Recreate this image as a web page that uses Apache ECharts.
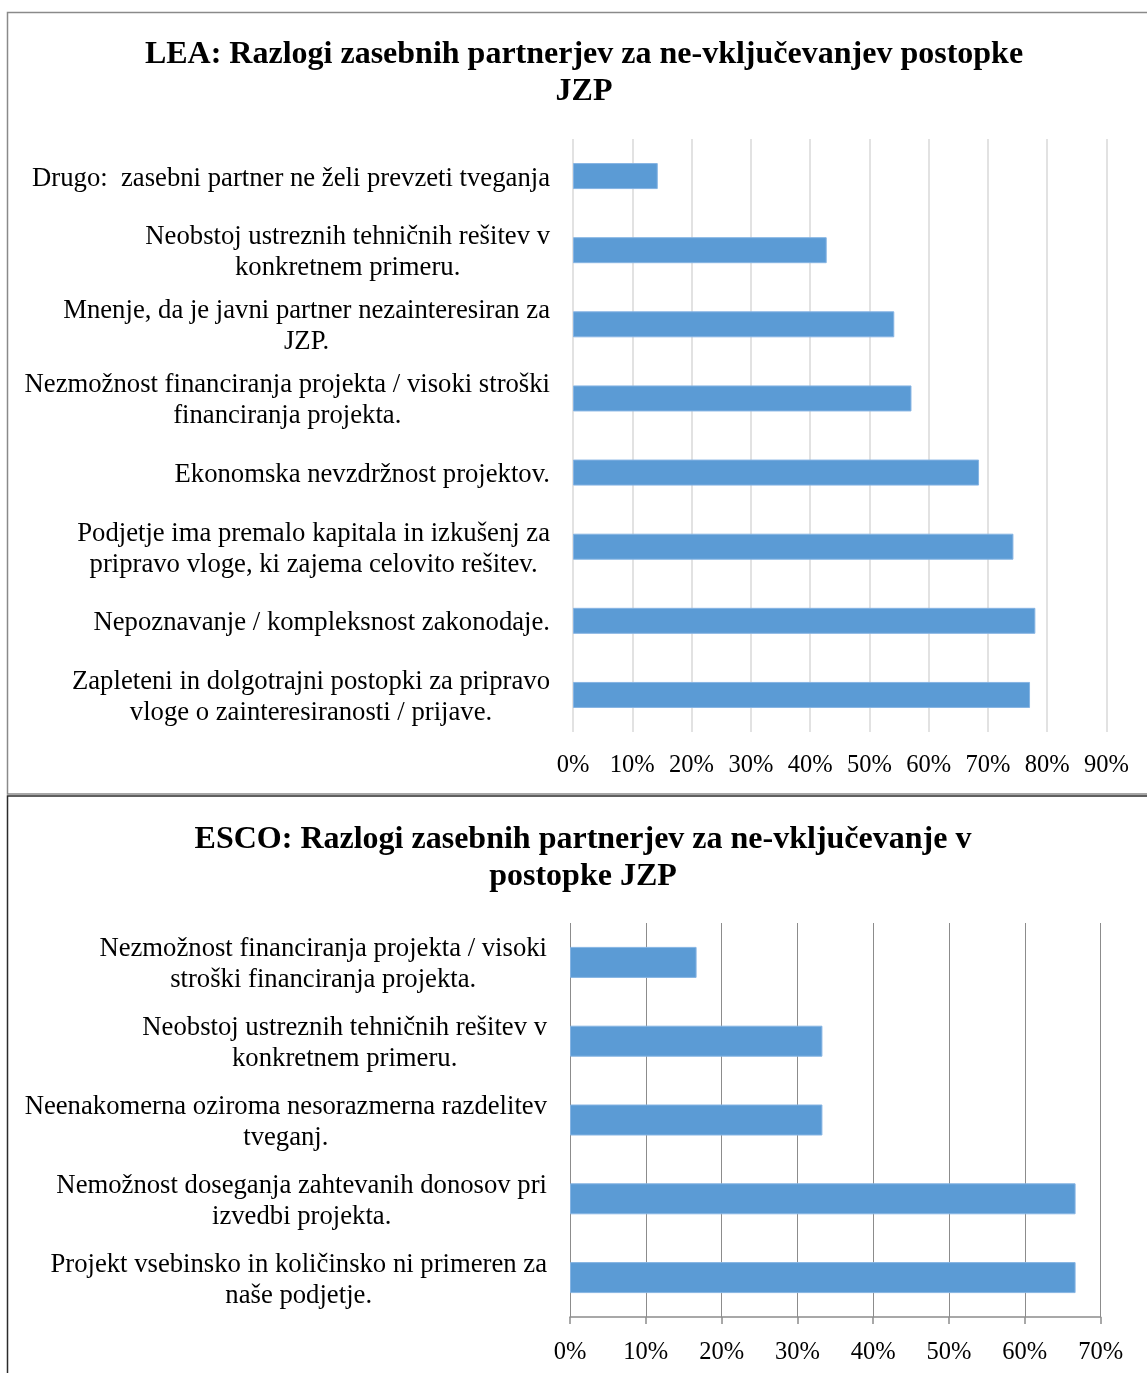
<!DOCTYPE html>
<html>
<head>
<meta charset="utf-8">
<title>Razlogi zasebnih partnerjev za ne-vključevanje v postopke JZP</title>
<script src="https://cdn.jsdelivr.net/npm/echarts@6/dist/echarts.min.js"></script>
<style>
  html, body { margin: 0; padding: 0; background: #fff; }
  #chart { width: 1147px; height: 1373px; }
</style>
</head>
<body>
<div id="chart"></div>
<script>
// LEA panel: reasons listed top to bottom, shares in percent
const leaCategories = [
  'Drugo:  zasebni partner ne želi prevzeti tveganja',
  'Neobstoj ustreznih tehničnih rešitev v\nkonkretnem primeru.',
  'Mnenje, da je javni partner nezainteresiran za\nJZP.',
  'Nezmožnost financiranja projekta / visoki stroški\nfinanciranja projekta.',
  'Ekonomska nevzdržnost projektov.',
  'Podjetje ima premalo kapitala in izkušenj za\npripravo vloge, ki zajema celovito rešitev.',
  'Nepoznavanje / kompleksnost zakonodaje.',
  'Zapleteni in dolgotrajni postopki za pripravo\nvloge o zainteresiranosti / prijave.'
];
const leaValues = [14.3, 42.8, 54.2, 57.1, 68.5, 74.3, 78.0, 77.1];
const leaTicks = [0, 10, 20, 30, 40, 50, 60, 70, 80, 90];

// ESCO panel
const escoCategories = [
  'Nezmožnost financiranja projekta / visoki\nstroški financiranja projekta.',
  'Neobstoj ustreznih tehničnih rešitev v\nkonkretnem primeru.',
  'Neenakomerna oziroma nesorazmerna razdelitev\ntveganj.',
  'Nemožnost doseganja zahtevanih donosov pri\nizvedbi projekta.',
  'Projekt vsebinsko in količinsko ni primeren za\nnaše podjetje.'
];
const escoValues = [16.7, 33.3, 33.3, 66.7, 66.7];
const escoTicks = [0, 10, 20, 30, 40, 50, 60, 70];

const leaTitle = 'LEA: Razlogi zasebnih partnerjev za ne-vključevanjev postopke\nJZP';
const escoTitle = 'ESCO: Razlogi zasebnih partnerjev za ne-vključevanje v\npostopke JZP';

const SERIF = '"Liberation Serif", "Times New Roman", serif';
const BAR = '#5B9BD5';

// each wrapped line is centred inside the right-aligned label block
function centredLines(v) {
  return v.split('\n').map(function (l) { return '{c|' + l + '}'; }).join('\n');
}
const categoryLabel = {
  interval: 0,
  margin: 23,
  padding: [5, 0, 0, 0],
  formatter: centredLines,
  rich: {
    c: { align: 'center', fontSize: 26.7, lineHeight: 31, fontFamily: SERIF, color: '#000' }
  }
};

const chart = echarts.init(document.getElementById('chart'), null, { renderer: 'canvas' });

chart.setOption({
  animation: false,
  backgroundColor: '#fff',
  title: [
    {
      text: leaTitle, left: 584, top: 36, textAlign: 'center', padding: 0,
      textStyle: { fontFamily: SERIF, fontWeight: 'bold', fontSize: 32, lineHeight: 37, color: '#000' }
    },
    {
      text: escoTitle, left: 583, top: 821, textAlign: 'center', padding: 0,
      textStyle: { fontFamily: SERIF, fontWeight: 'bold', fontSize: 32, lineHeight: 37, color: '#000' }
    }
  ],
  graphic: [
    // frame of the upper panel
    { type: 'rect', silent: true, z: -1,
      shape: { x: 7.5, y: 12.5, width: 1160, height: 781.5 },
      style: { fill: null, stroke: '#8a8a8a', lineWidth: 1.5 } },
    // frame of the lower panel
    { type: 'rect', silent: true, z: -1,
      shape: { x: 7.5, y: 796, width: 1160, height: 600 },
      style: { fill: null, stroke: '#2b2b2b', lineWidth: 1.5 } }
  ],
  grid: [
    { left: 573, right: 40.5, top: 139, height: 593 },
    { left: 570, right: 46.4, top: 923, height: 394 }
  ],
  xAxis: [
    {
      gridIndex: 0, type: 'value',
      min: leaTicks[0], max: leaTicks[leaTicks.length - 1], interval: leaTicks[1] - leaTicks[0],
      axisLine: { show: false }, axisTick: { show: false },
      splitLine: { show: true, lineStyle: { color: '#d9d9d9', width: 1.5 } },
      axisLabel: { formatter: '{value}%', fontFamily: SERIF, fontSize: 24.5, color: '#000', margin: 21 }
    },
    {
      gridIndex: 1, type: 'value',
      min: escoTicks[0], max: escoTicks[escoTicks.length - 1], interval: escoTicks[1] - escoTicks[0],
      axisLine: { show: true, lineStyle: { color: '#8c8c8c', width: 1.5 } },
      axisTick: { show: true, length: 7, lineStyle: { color: '#8c8c8c', width: 1.5 } },
      splitLine: { show: true, lineStyle: { color: '#8c8c8c', width: 1 } },
      axisLabel: { formatter: '{value}%', fontFamily: SERIF, fontSize: 24.5, color: '#000', margin: 23 }
    }
  ],
  yAxis: [
    {
      gridIndex: 0, type: 'category', data: leaCategories, inverse: true,
      axisLine: { show: false }, axisTick: { show: false }, splitLine: { show: false },
      axisLabel: categoryLabel
    },
    {
      gridIndex: 1, type: 'category', data: escoCategories, inverse: true,
      axisLine: { show: false }, axisTick: { show: false }, splitLine: { show: false },
      axisLabel: categoryLabel
    }
  ],
  series: [
    {
      type: 'bar', xAxisIndex: 0, yAxisIndex: 0, data: leaValues, barWidth: 26,
      itemStyle: { color: BAR, borderColor: '#86b4e3', borderWidth: 1 }
    },
    {
      type: 'bar', xAxisIndex: 1, yAxisIndex: 1, data: escoValues, barWidth: 31,
      itemStyle: { color: BAR, borderColor: '#86b4e3', borderWidth: 1 }
    }
  ]
});
</script>
</body>
</html>
